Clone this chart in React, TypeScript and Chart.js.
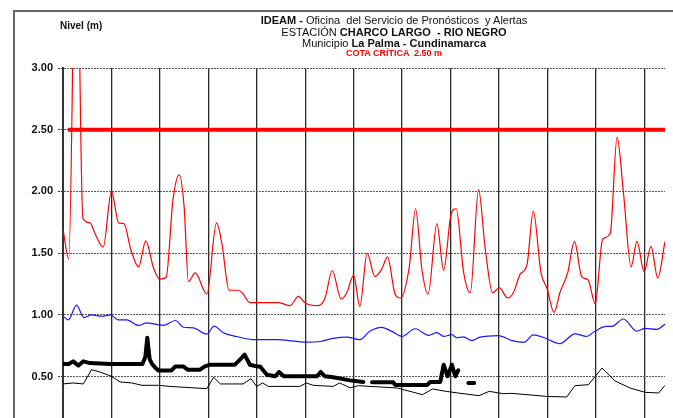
import React, { useEffect, useRef } from "react";
import { Chart, registerables } from "chart.js";

Chart.register(...registerables);

// Time axis: days (one vertical gridline per day)
const redT = [0.0, 0.12, 0.275, 0.41, 0.56, 0.66, 0.83, 1.0, 1.15, 1.26, 1.4, 1.56, 1.71, 1.87, 2.0, 2.13, 2.27, 2.4, 2.5, 2.59, 2.73, 2.97, 3.17, 3.28, 3.43, 3.62, 3.7, 3.86, 4.03, 4.45, 4.69, 4.86, 5.0, 5.27, 5.41, 5.56, 5.74, 5.86, 6.0, 6.13, 6.28, 6.44, 6.58, 6.7, 6.86, 6.97, 7.15, 7.28, 7.41, 7.54, 7.72, 7.86, 8.01, 8.12, 8.27, 8.41, 8.58, 8.72, 8.87, 9.01, 9.18, 9.3, 9.44, 9.58, 9.71, 9.87, 9.99, 10.14, 10.26, 10.42, 10.56, 10.71, 10.84, 10.99, 11.14, 11.3, 11.44, 11.57, 11.73, 11.85, 12.0, 12.14, 12.28, 12.43];
const redV = [1.69, 1.455, 4.5, 1.785, 1.745, 1.66, 1.55, 2.0, 1.745, 1.74, 1.53, 1.39, 1.6, 1.38, 1.29, 1.305, 1.93, 2.135, 1.88, 1.27, 1.34, 1.17, 1.745, 1.58, 1.2, 1.2, 1.18, 1.1, 1.1, 1.1, 1.075, 1.15, 1.097, 1.075, 1.137, 1.36, 1.13, 1.18, 1.32, 1.07, 1.5, 1.31, 1.37, 1.47, 1.165, 1.137, 1.39, 1.86, 1.37, 1.17, 1.74, 1.36, 1.81, 1.86, 1.35, 1.18, 2.015, 1.53, 1.18, 1.22, 1.137, 1.18, 1.33, 1.405, 1.84, 1.34, 1.22, 1.02, 1.18, 1.34, 1.595, 1.31, 1.285, 1.09, 1.61, 1.66, 2.44, 2.0, 1.39, 1.595, 1.35, 1.555, 1.3, 1.595];

const blueT = [0.0, 0.11, 0.28, 0.43, 0.59, 0.8, 0.98, 1.14, 1.32, 1.56, 1.73, 1.9, 2.07, 2.32, 2.49, 2.69, 2.97, 3.12, 3.31, 3.59, 3.93, 4.41, 5.03, 5.31, 5.58, 5.86, 6.13, 6.34, 6.58, 6.79, 7.0, 7.27, 7.55, 7.72, 7.86, 8.03, 8.13, 8.27, 8.44, 8.61, 8.99, 9.27, 9.52, 9.71, 9.95, 10.26, 10.57, 10.81, 10.99, 11.22, 11.33, 11.57, 11.85, 12.02, 12.26, 12.43];
const blueV = [0.99, 0.96, 1.08, 0.98, 1.0, 0.99, 1.0, 0.96, 0.96, 0.915, 0.935, 0.925, 0.915, 0.955, 0.9, 0.895, 0.845, 0.91, 0.855, 0.825, 0.8, 0.8, 0.78, 0.785, 0.81, 0.82, 0.8, 0.87, 0.9, 0.867, 0.826, 0.888, 0.835, 0.857, 0.826, 0.84, 0.815, 0.822, 0.792, 0.82, 0.833, 0.792, 0.778, 0.838, 0.813, 0.767, 0.847, 0.826, 0.87, 0.907, 0.907, 0.967, 0.868, 0.891, 0.883, 0.925];

const thinT = [0.0, 0.21, 0.42, 0.59, 0.76, 1.0, 1.18, 1.42, 1.63, 1.97, 2.21, 2.97, 3.11, 3.25, 3.72, 3.88, 4.0, 4.12, 4.24, 4.89, 5.02, 5.17, 5.58, 5.71, 5.93, 6.1, 6.91, 7.42, 7.63, 7.91, 8.15, 8.59, 8.8, 9.09, 9.27, 9.99, 10.4, 10.57, 10.85, 11.13, 11.4, 11.71, 12.02, 12.3, 12.43];
const thinV = [0.441, 0.449, 0.441, 0.557, 0.538, 0.503, 0.457, 0.449, 0.43, 0.43, 0.421, 0.403, 0.495, 0.441, 0.441, 0.484, 0.421, 0.449, 0.421, 0.421, 0.449, 0.43, 0.421, 0.449, 0.41, 0.427, 0.408, 0.354, 0.4, 0.381, 0.368, 0.346, 0.381, 0.362, 0.365, 0.34, 0.335, 0.427, 0.435, 0.57, 0.465, 0.408, 0.373, 0.368, 0.43];

const thickT = [0.0, 0.12, 0.21, 0.32, 0.42, 0.56, 0.97, 1.64, 1.7, 1.74, 1.79, 1.84, 1.9, 1.97, 2.24, 2.32, 2.49, 2.57, 2.83, 2.93, 3.04, 3.55, 3.66, 3.75, 3.86, 4.0, 4.07, 4.21, 4.38, 4.46, 4.56, 5.24, 5.32, 5.41, 5.58, 5.93, 6.2, 6.24, 6.38, 6.82, 6.86, 7.52, 7.58, 7.79, 7.86, 7.94, 8.03, 8.1, 8.16, 8.2, 8.37, 8.49];
const thickV: (number | null)[] = [0.603, 0.603, 0.624, 0.59, 0.624, 0.61, 0.603, 0.603, 0.66, 0.815, 0.64, 0.603, 0.575, 0.55, 0.55, 0.583, 0.583, 0.557, 0.557, 0.583, 0.597, 0.597, 0.64, 0.678, 0.597, 0.583, 0.583, 0.516, 0.503, 0.538, 0.503, 0.503, 0.538, 0.503, 0.495, 0.47, 0.457, null, 0.454, 0.454, 0.433, 0.433, 0.457, 0.457, 0.597, 0.503, 0.597, 0.503, 0.551, null, 0.449, 0.449];

const cotaT = [0.1, 12.43];
const cotaV = [2.5, 2.5];

const X_MAX = 12.43;
const FONT = "'Liberation Sans', Arial, sans-serif";

const pts = (t: number[], v: (number | null)[]) => t.map((x, i) => ({ x, y: v[i] }));

export default function App() {
  const ref = useRef<HTMLCanvasElement>(null);
  useEffect(() => {
    if (!ref.current) return;
    const chart = new Chart(ref.current, {
      type: "line",
      data: {
        datasets: [
          { data: pts(thinT, thinV), borderColor: "#000", borderWidth: 1, pointRadius: 0, tension: 0, clip: 0 },
          { data: pts(thickT, thickV), borderColor: "#000", borderWidth: 4, pointRadius: 0, tension: 0, spanGaps: false, borderJoinStyle: "round", borderCapStyle: "round", clip: 0 },
          { data: pts(blueT, blueV), borderColor: "#1a1aff", borderWidth: 1.2, pointRadius: 0, cubicInterpolationMode: "monotone", clip: 0 },
          { data: pts(redT, redV), borderColor: "#ff0000", borderWidth: 1.2, pointRadius: 0, cubicInterpolationMode: "monotone", clip: 0 },
          { data: pts(cotaT, cotaV), borderColor: "#ff0000", borderWidth: 4, pointRadius: 0, tension: 0, clip: 0 },
        ] as any,
      },
      options: {
        animation: false,
        responsive: false,
        devicePixelRatio: 1,
        events: [],
        layout: { padding: { left: 0, top: 68, right: 8, bottom: 11 } },
        plugins: { legend: { display: false }, tooltip: { enabled: false }, title: { display: false } },
        scales: {
          x: {
            type: "linear",
            min: 0,
            max: X_MAX,
            ticks: { display: false, stepSize: 1, includeBounds: false },
            grid: { color: "#2a2a2a", lineWidth: 1.3, drawTicks: false },
            border: { display: false },
            afterFit: (s: any) => { s.height = 0; },
          },
          y: {
            min: 0,
            max: 3,
            ticks: {
              stepSize: 0.5,
              padding: 5,
              color: "#111",
              font: { family: FONT, size: 11, weight: "bold" },
              callback: (v: any) => Number(v).toFixed(2),
            },
            grid: { color: "#555", lineWidth: 1, tickLength: 5, tickColor: "#333", tickBorderDash: [2, 1] },
            border: { display: true, color: "#333", width: 2, dash: [2, 1] },
            afterFit: (s: any) => { s.width = 63; },
          },
        },
      } as any,
    });
    return () => chart.destroy();
  }, []);

  const line = (top: number, size: number, children: React.ReactNode, color = "#111") => (
    <div
      style={{
        position: "absolute",
        left: 394,
        top,
        transform: "translateX(-50%)",
        whiteSpace: "pre",
        fontFamily: FONT,
        fontSize: size,
        lineHeight: `${size + 1}px`,
        color,
      }}
    >
      {children}
    </div>
  );

  return (
    <div style={{ position: "fixed", left: 0, top: 0, width: 673, height: 450, background: "#fff", overflow: "hidden" }}>
      <canvas ref={ref} width={673} height={450} style={{ position: "absolute", left: 0, top: 0 }} />
      <div style={{ position: "absolute", left: 13, top: 10, width: 720, height: 520, border: "2px solid #666" }} />
      <div style={{ position: "absolute", left: 60, top: 20, fontFamily: FONT, fontSize: 10, fontWeight: "bold", lineHeight: "12px", color: "#111" }}>
        Nivel (m)
      </div>
      {line(14, 11, <><b>IDEAM - </b>Oficina  del Servicio de Pronósticos  y Alertas</>)}
      {line(26, 11, <>ESTACIÓN <b>CHARCO LARGO  - RIO NEGRO</b></>)}
      {line(37, 11, <>Municipio <b>La Palma - Cundinamarca</b></>)}
      {line(48, 9, <b>COTA CRÍTICA  2.50 m</b>, "#ff0000")}
    </div>
  );
}
